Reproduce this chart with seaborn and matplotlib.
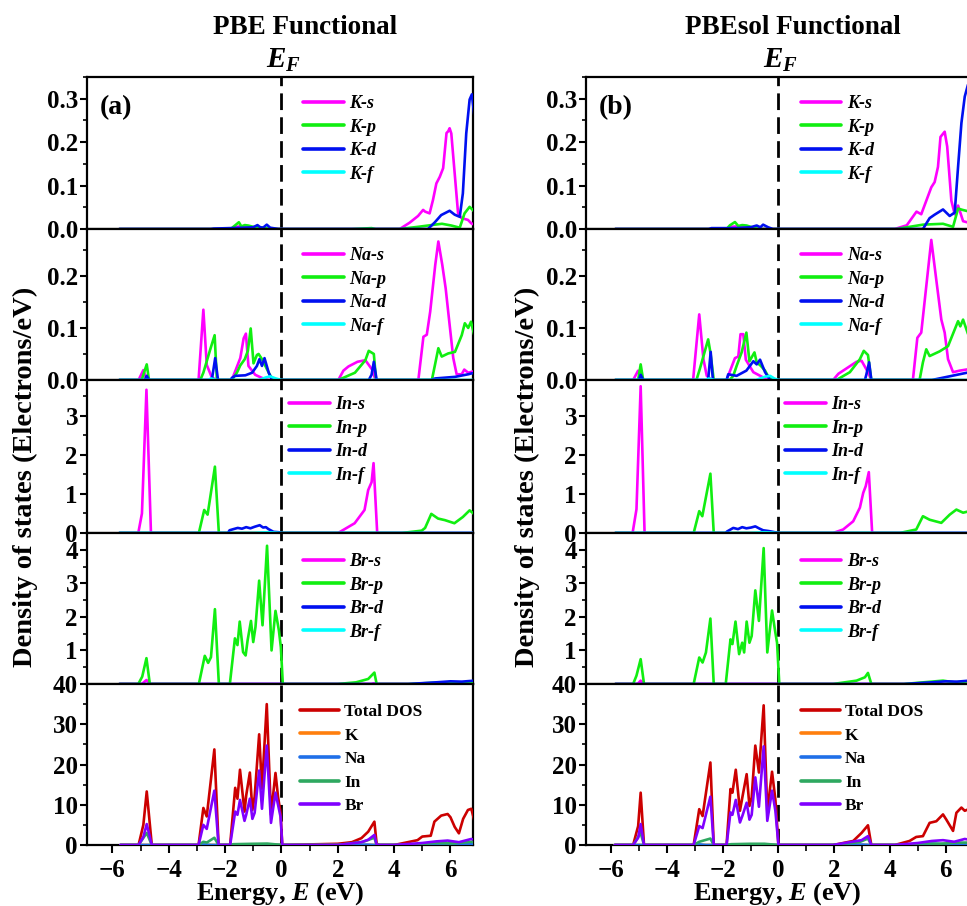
import matplotlib
matplotlib.use("Agg")
import matplotlib.pyplot as plt
import seaborn as sns
from matplotlib.lines import Line2D
from matplotlib.ticker import MultipleLocator, FormatStrFormatter

# ---------------- data: (energy eV, DOS) knots ----------------
# PBE (left column)
pbe_K_s = [(-5.75,0),(-1.75,0),(-1.65,0.004),(-1.5,0.006),(-1.3,0.004),(-1.0,0.002),(-0.6,0),(4.2,0),(4.55,0.0145),(4.85,0.03),(5.03,0.044),(5.1,0.04),(5.26,0.036),(5.38,0.067),(5.5,0.105),(5.62,0.12),(5.74,0.14),(5.86,0.221),(5.92,0.225),(5.97,0.232),(6.03,0.22),(6.15,0.128),(6.27,0.036),(6.39,0.025),(6.62,0.021),(6.74,0.013),(6.85,0.01)]
pbe_K_p = [(-5.75,0),(-1.8,0),(-1.65,0.008),(-1.51,0.0155),(-1.42,0.006),(-1.3,0.009),(-1.18,0.008),(-1.0,0.005),(-0.8,0.004),(-0.59,0.003),(-0.45,0),(2.5,0),(3.2,0.002),(3.35,0),(4.2,0),(4.85,0.005),(5.44,0.01),(5.7,0.012),(6.03,0.008),(6.33,0.003),(6.5,0.036),(6.68,0.051),(6.85,0.04)]
pbe_K_d = [(-5.75,0),(-2.5,0),(-2.4,0.001),(-1.3,0.003),(-1.0,0.004),(-0.85,0.009),(-0.75,0.004),(-0.65,0.003),(-0.52,0.01),(-0.4,0.003),(-0.1,0),(5.2,0),(5.44,0.015),(5.67,0.032),(5.97,0.042),(6.15,0.033),(6.33,0.028),(6.44,0.082),(6.56,0.22),(6.68,0.298),(6.76,0.31),(6.85,0.26)]
pbe_K_f = [(-5.75,0),(6.85,0)]

pbe_Na_s = [(-5.75,0),(-5.07,0),(-4.9,0.019),(-4.78,0),(-2.94,0),(-2.77,0.135),(-2.65,0.029),(-2.47,0.005),(-2.3,0),(-1.76,0),(-1.46,0.042),(-1.34,0.08),(-1.26,0.089),(-1.17,0.027),(-0.93,0.01),(-0.69,0.004),(-0.45,0),(2.02,0),(2.2,0.018),(2.38,0.026),(2.7,0.035),(2.98,0.038),(3.22,0.02),(3.34,0),(4.86,0),(5.04,0.083),(5.16,0.087),(5.28,0.131),(5.46,0.221),(5.57,0.266),(5.71,0.221),(5.83,0.176),(5.92,0.131),(6.1,0.042),(6.22,0.011),(6.4,0.011),(6.49,0.02),(6.63,0.014),(6.85,0.017)]
pbe_Na_p = [(-5.75,0),(-4.96,0),(-4.78,0.03),(-4.7,0),(-2.88,0),(-2.77,0.014),(-2.53,0.058),(-2.37,0.086),(-2.29,0),(-1.76,0),(-1.58,0.014),(-1.46,0.028),(-1.3,0.04),(-1.19,0.056),(-1.09,0.099),(-0.99,0.032),(-0.87,0.048),(-0.81,0.05),(-0.69,0.04),(-0.45,0.014),(-0.36,0.005),(-0.2,0),(2.02,0),(2.61,0.014),(2.98,0.038),(3.1,0.056),(3.28,0.05),(3.36,0),(5.34,0),(5.45,0.029),(5.57,0.061),(5.69,0.045),(5.92,0.051),(6.16,0.054),(6.4,0.086),(6.51,0.109),(6.63,0.1),(6.73,0.112),(6.85,0.085)]
pbe_Na_d = [(-5.75,0),(-4.85,0),(-4.78,0.008),(-4.7,0),(-2.47,0),(-2.35,0.042),(-2.25,0),(-1.8,0),(-1.76,0.004),(-1.64,0.008),(-1.28,0.009),(-1.04,0.014),(-0.87,0.027),(-0.78,0.04),(-0.69,0.027),(-0.6,0.042),(-0.45,0.014),(-0.33,0),(3.1,0),(3.2,0.01),(3.28,0.035),(3.38,0),(5.3,0),(5.46,0.003),(6.16,0.006),(6.63,0.011),(6.85,0.014)]
pbe_Na_f = [(-5.75,0),(-2.6,0),(-2.5,0.003),(-2.3,0),(-0.8,0),(-0.55,0.005),(-0.4,0.007),(-0.2,0.003),(0,0),(6.85,0)]

pbe_In_s = [(-5.75,0),(-5.08,0),(-4.95,0.5),(-4.79,3.67),(-4.63,0),(2.01,0),(2.6,0.25),(2.95,0.59),(3.08,1.1),(3.2,1.3),(3.27,1.79),(3.4,0),(6.85,0)]
pbe_In_p = [(-5.75,0),(-2.93,0),(-2.74,0.59),(-2.62,0.47),(-2.36,1.7),(-2.22,0),(4.27,0),(4.98,0.06),(5.1,0.13),(5.32,0.49),(5.56,0.37),(5.8,0.33),(6.14,0.25),(6.44,0.41),(6.68,0.58),(6.85,0.48)]
pbe_In_d = [(-5.75,0),(-1.9,0),(-1.84,0.07),(-1.7,0.1),(-1.55,0.13),(-1.4,0.11),(-1.25,0.15),(-1.1,0.12),(-0.95,0.16),(-0.77,0.2),(-0.65,0.14),(-0.55,0.15),(-0.46,0.1),(-0.28,0.03),(-0.1,0.02),(0,0),(6.85,0)]
pbe_In_f = [(-5.75,0),(-1.0,0),(-0.5,0.02),(-0.2,0.01),(0,0),(6.85,0)]

pbe_Br_s = [(-5.75,0),(-4.95,0),(-4.79,0.12),(-4.65,0),(3.2,0),(3.28,0.02),(3.38,0),(6.85,0)]
pbe_Br_p = [(-5.75,0),(-5.08,0),(-4.94,0.22),(-4.79,0.77),(-4.67,0),(-2.93,0),(-2.72,0.84),(-2.6,0.63),(-2.5,0.8),(-2.36,2.23),(-2.22,0),(-1.83,0),(-1.65,1.36),(-1.56,1.16),(-1.48,1.86),(-1.36,0.95),(-1.27,0.85),(-1.2,1.3),(-1.08,1.88),(-1.0,1.25),(-0.92,1.7),(-0.79,3.08),(-0.67,1.75),(-0.51,4.12),(-0.35,1.0),(-0.21,2.18),(-0.09,1.6),(-0.02,1.1),(0.05,0),(2.0,0),(2.65,0.05),(3.08,0.15),(3.3,0.34),(3.38,0),(4.5,0),(5.5,0.04),(6.0,0.05),(6.85,0.04)]
pbe_Br_d = [(-5.75,0),(4.5,0),(5.5,0.05),(6.0,0.08),(6.4,0.07),(6.85,0.1)]
pbe_Br_f = [(-5.75,0),(6.85,0)]

pbe_tot = [(-5.72,0),(-5.07,0),(-4.9,5),(-4.78,13.3),(-4.6,0),(-2.94,0),(-2.77,9.2),(-2.65,7.1),(-2.38,23.75),(-2.23,0),(-1.82,0),(-1.64,14.2),(-1.56,11.5),(-1.47,18.7),(-1.31,8.3),(-1.25,12.3),(-1.12,18),(-1.03,8.7),(-0.95,12),(-0.79,27.5),(-0.69,14),(-0.52,35),(-0.37,7.5),(-0.21,17.9),(-0.12,12),(-0.03,8),(0.03,0),(2.0,0.3),(2.5,0.7),(2.84,1.7),(3.08,3.3),(3.3,5.8),(3.38,0.3),(3.5,0),(4.0,0),(4.83,1.2),(5.0,2.1),(5.3,2.3),(5.43,5.8),(5.67,7.3),(5.9,7.7),(6.0,6.9),(6.15,4.5),(6.3,2.9),(6.45,6.5),(6.62,8.7),(6.74,9),(6.85,6)]
pbe_K_tot = [(-5.72,0),(4.2,0),(5.5,0.15),(6.0,0.25),(6.5,0.2),(6.85,0.45)]
pbe_Na_tot = [(-5.72,0),(-2.9,0),(-2.77,0.15),(-2.5,0),(2.0,0),(3.0,0.1),(3.3,0),(5.0,0),(5.6,0.35),(6.0,0.2),(6.85,0.2)]
pbe_In_tot = [(-5.72,0),(-5.07,0),(-4.78,3.0),(-4.6,0),(-2.94,0),(-2.77,0.8),(-2.65,0.6),(-2.38,1.8),(-2.23,0),(-1.82,0),(-1.7,0.2),(-1.0,0.3),(-0.5,0.35),(0.03,0),(2.0,0),(2.9,0.8),(3.3,1.8),(3.38,0),(4.3,0),(5.0,0.2),(5.4,0.5),(6.1,0.4),(6.74,0.8),(6.85,0.7)]
pbe_Br_tot = [(-5.72,0),(-5.07,0),(-4.9,2),(-4.78,5.2),(-4.6,0),(-2.94,0),(-2.77,5.0),(-2.65,4.0),(-2.38,13.5),(-2.23,0),(-1.82,0),(-1.64,8.3),(-1.56,7.5),(-1.47,11.2),(-1.31,6),(-1.25,7.5),(-1.12,11.5),(-1.03,6.5),(-0.95,8),(-0.79,18.5),(-0.69,9),(-0.52,24.7),(-0.37,5.5),(-0.21,13),(-0.12,10),(-0.03,7),(0.03,0),(2.0,0),(2.84,0.7),(3.08,1.3),(3.3,2.5),(3.38,0),(4.0,0),(5.0,0.5),(5.5,0.9),(5.9,1.1),(6.3,0.7),(6.74,1.5),(6.85,1.3)]

# PBEsol (right column)
sol_K_s = [(-5.85,0),(-1.85,0),(-1.7,0.005),(-1.5,0.006),(-1.3,0.004),(-1.0,0.002),(-0.7,0),(4.17,0),(4.6,0.0085),(4.95,0.04),(5.12,0.034),(5.3,0.065),(5.48,0.096),(5.6,0.108),(5.72,0.143),(5.81,0.212),(5.96,0.224),(6.05,0.19),(6.2,0.065),(6.32,0.034),(6.44,0.054),(6.62,0.018),(6.85,0.014)]
sol_K_p = [(-5.85,0),(-1.86,0),(-1.74,0.0085),(-1.56,0.016),(-1.44,0.007),(-1.3,0.009),(-1.14,0.008),(-0.9,0.003),(-0.7,0),(4.23,0),(5.18,0.01),(5.9,0.012),(6.26,0.005),(6.44,0.047),(6.6,0.044),(6.85,0.04)]
sol_K_d = [(-5.85,0),(-2.5,0),(-2.4,0.002),(-1.5,0.002),(-1.0,0.004),(-0.78,0.008),(-0.65,0.004),(-0.55,0.01),(-0.37,0.004),(-0.2,0),(5.18,0),(5.42,0.025),(5.6,0.033),(5.9,0.045),(6.14,0.03),(6.32,0.038),(6.44,0.143),(6.56,0.244),(6.68,0.305),(6.85,0.345)]
sol_K_f = [(-5.85,0),(6.85,0)]

sol_Na_s = [(-5.85,0),(-5.21,0),(-5.03,0.018),(-4.9,0),(-3.06,0),(-2.84,0.126),(-2.69,0.04),(-2.57,0.008),(-2.4,0),(-1.86,0),(-1.56,0.042),(-1.44,0.045),(-1.36,0.088),(-1.26,0.088),(-1.17,0.039),(-0.9,0.015),(-0.55,0.005),(-0.3,0),(1.96,0),(2.15,0.012),(2.32,0.018),(2.8,0.035),(2.98,0.037),(3.21,0.015),(3.33,0),(4.82,0),(4.98,0.081),(5.12,0.091),(5.3,0.18),(5.48,0.269),(5.66,0.192),(5.84,0.116),(5.96,0.091),(6.08,0.04),(6.26,0.015),(6.5,0.018),(6.85,0.021)]
sol_Na_p = [(-5.85,0),(-5.03,0),(-4.94,0.03),(-4.85,0),(-2.94,0),(-2.82,0.021),(-2.52,0.078),(-2.44,0.053),(-2.32,0),(-1.75,0),(-1.62,0.008),(-1.5,0.027),(-1.32,0.053),(-1.15,0.091),(-1.04,0.036),(-0.86,0.053),(-0.78,0.034),(-0.63,0.027),(-0.48,0.018),(-0.35,0.005),(-0.2,0),(2.08,0),(2.56,0.015),(2.92,0.04),(3.06,0.056),(3.21,0.048),(3.33,0),(5.06,0),(5.18,0.034),(5.3,0.059),(5.42,0.046),(5.78,0.055),(6.08,0.065),(6.32,0.097),(6.44,0.113),(6.52,0.103),(6.62,0.116),(6.85,0.08)]
sol_Na_d = [(-5.85,0),(-5.0,0),(-4.94,0.01),(-4.85,0),(-2.52,0),(-2.43,0.054),(-2.35,0),(-1.86,0),(-1.8,0.011),(-1.5,0.008),(-1.15,0.018),(-0.9,0.036),(-0.78,0.03),(-0.66,0.039),(-0.48,0.015),(-0.3,0),(3.1,0),(3.15,0.01),(3.25,0.034),(3.33,0),(5.5,0),(6.4,0.01),(6.85,0.015)]
sol_Na_f = [(-5.85,0),(-2.6,0),(-2.5,0.003),(-2.3,0),(-0.8,0),(-0.5,0.006),(-0.3,0.008),(-0.15,0.003),(0,0),(6.85,0)]

sol_In_s = [(-5.85,0),(-5.23,0),(-5.09,0.61),(-4.94,3.76),(-4.8,0),(1.96,0),(2.32,0.09),(2.68,0.3),(2.92,0.65),(3.04,1.03),(3.13,1.2),(3.24,1.56),(3.36,0),(6.85,0)]
sol_In_p = [(-5.85,0),(-3.04,0),(-2.84,0.56),(-2.73,0.43),(-2.44,1.52),(-2.32,0),(4.35,0),(4.94,0.09),(5.18,0.43),(5.42,0.34),(5.84,0.26),(6.14,0.47),(6.38,0.6),(6.62,0.52),(6.85,0.56)]
sol_In_d = [(-5.85,0),(-1.9,0),(-1.84,0.04),(-1.62,0.13),(-1.45,0.1),(-1.3,0.15),(-1.15,0.12),(-0.98,0.14),(-0.83,0.17),(-0.7,0.12),(-0.55,0.07),(-0.35,0.05),(-0.2,0.03),(0,0),(6.85,0)]
sol_In_f = [(-5.85,0),(-1.0,0),(-0.5,0.02),(-0.2,0.01),(0,0),(6.85,0)]

sol_Br_s = [(-5.85,0),(-5.05,0),(-4.94,0.1),(-4.82,0),(6.85,0)]
sol_Br_p = [(-5.85,0),(-5.21,0),(-5.09,0.25),(-4.94,0.74),(-4.82,0),(-3.04,0),(-2.84,0.79),(-2.72,0.64),(-2.6,0.94),(-2.44,1.95),(-2.32,0),(-1.89,0),(-1.72,1.33),(-1.65,1.19),(-1.54,1.86),(-1.41,0.89),(-1.3,1.23),(-1.23,0.94),(-1.14,1.86),(-1.04,1.23),(-0.96,1.43),(-0.83,2.79),(-0.7,1.88),(-0.53,4.05),(-0.4,0.94),(-0.23,2.19),(-0.11,1.53),(-0.05,1.23),(0.03,0),(1.96,0),(2.8,0.1),(3.1,0.2),(3.21,0.33),(3.33,0),(4.5,0),(5.9,0.1),(6.3,0.05),(6.85,0.08)]
sol_Br_d = [(-5.85,0),(4.5,0),(5.5,0.05),(6.0,0.08),(6.4,0.07),(6.85,0.1)]
sol_Br_f = [(-5.85,0),(6.85,0)]

sol_tot = [(-5.87,0),(-5.21,0),(-5.03,4.7),(-4.94,13),(-4.82,0),(-3.04,0),(-2.84,8.9),(-2.72,7.2),(-2.44,20.5),(-2.32,0),(-1.86,0),(-1.72,13.9),(-1.65,13),(-1.53,18.7),(-1.38,8.5),(-1.29,12),(-1.14,17.6),(-1.04,9.7),(-0.96,11.8),(-0.83,24.7),(-0.7,18),(-0.53,34.7),(-0.4,8.3),(-0.23,18.2),(-0.11,11.3),(0.0,0),(1.96,0),(2.68,1),(2.98,3),(3.21,4.9),(3.33,0),(4.17,0),(4.7,1),(4.94,2),(5.18,2.2),(5.42,5.5),(5.66,5.9),(5.9,7.6),(6.02,6.3),(6.26,3.5),(6.38,8.0),(6.56,9.3),(6.68,8.5),(6.85,9)]
sol_K_tot = [(-5.87,0),(4.2,0),(5.5,0.15),(6.0,0.25),(6.5,0.2),(6.85,0.45)]
sol_Na_tot = [(-5.87,0),(-3.0,0),(-2.84,0.15),(-2.6,0),(2.0,0),(3.0,0.1),(3.3,0),(4.9,0),(5.5,0.35),(6.0,0.2),(6.85,0.2)]
sol_In_tot = [(-5.87,0),(-5.21,0),(-4.94,3.0),(-4.82,0),(-3.04,0),(-2.84,0.8),(-2.44,1.6),(-2.32,0),(-1.86,0),(-1.7,0.2),(-1.0,0.3),(-0.5,0.3),(0,0),(1.96,0),(2.9,0.7),(3.21,1.6),(3.33,0),(4.3,0),(5.2,0.4),(5.8,0.3),(6.4,0.6),(6.85,0.6)]
sol_Br_tot = [(-5.87,0),(-5.21,0),(-5.03,1.8),(-4.94,5.2),(-4.82,0),(-3.04,0),(-2.84,4.7),(-2.72,4.2),(-2.44,12),(-2.32,0),(-1.86,0),(-1.72,8.1),(-1.65,7.5),(-1.53,11.2),(-1.38,5.6),(-1.29,7.3),(-1.14,10.5),(-1.04,6.3),(-0.96,7.5),(-0.83,16.8),(-0.7,9.5),(-0.53,24.5),(-0.4,6),(-0.23,13.5),(-0.11,8.5),(0,0),(1.96,0),(2.98,1.2),(3.21,2.2),(3.33,0),(4.17,0),(5.0,0.5),(5.5,1.0),(5.9,1.2),(6.3,0.8),(6.68,1.5),(6.85,1.3)]

elements = ["K", "Na", "In", "Br"]
orbitals = ["s", "p", "d", "f"]
total_labels = ["Total DOS", "K", "Na", "In", "Br"]
functional_titles = ["PBE Functional", "PBEsol Functional"]
panel_tags = ["(a)", "(b)"]

# ---------------- styling ----------------
sns.set_style("ticks")
plt.rcParams.update({
    "font.family": ["Liberation Serif", "DejaVu Serif"],
    "font.weight": "bold",
    "axes.labelweight": "bold",
    "text.color": "black",
    "axes.labelcolor": "black",
    "xtick.color": "black",
    "ytick.color": "black",
    "axes.edgecolor": "black",
    "mathtext.fontset": "custom",
    "mathtext.rm": "Liberation Serif:bold",
    "mathtext.it": "Liberation Serif:italic:bold",
    "mathtext.bf": "Liberation Serif:bold",
    "axes.unicode_minus": True,
})

orb_colors = {"s": "#FF00FF", "p": "#11EE11", "d": "#0010F0", "f": "#00FFFF"}
tot_colors = ["#CC0000", "#FF7F0E", "#1F6FE8", "#2EA860", "#8000FF"]

W, H = 967, 906
ybounds = [77, 229, 380, 533, 684, 845]
cols = [(87, 386), (586, 383.5)]
xlims = [(-6.9, 6.8), (-6.9, 6.85)]
ylims = [(0, 0.35), (0, 0.29), (0, 3.92), (0, 4.5), (0, 40)]
ymaj = [0.1, 0.1, 1, 1, 10]
ymin = [0.05, 0.05, 0.5, 0.5, 5]
leg_x = [[0.56, 0.56, 0.523, 0.56, 0.552], [0.56, 0.56, 0.52, 0.56, 0.56]]
leg_y = [0.88, 0.88, 0.895, 0.867, 0.877]
leg_sp = [0.36, 0.36, 0.36, 0.36, 0.43]

data = {
    0: {"K": [pbe_K_s, pbe_K_p, pbe_K_d, pbe_K_f],
        "Na": [pbe_Na_s, pbe_Na_p, pbe_Na_d, pbe_Na_f],
        "In": [pbe_In_s, pbe_In_p, pbe_In_d, pbe_In_f],
        "Br": [pbe_Br_s, pbe_Br_p, pbe_Br_d, pbe_Br_f],
        "tot": [pbe_tot, pbe_K_tot, pbe_Na_tot, pbe_In_tot, pbe_Br_tot]},
    1: {"K": [sol_K_s, sol_K_p, sol_K_d, sol_K_f],
        "Na": [sol_Na_s, sol_Na_p, sol_Na_d, sol_Na_f],
        "In": [sol_In_s, sol_In_p, sol_In_d, sol_In_f],
        "Br": [sol_Br_s, sol_Br_p, sol_Br_d, sol_Br_f],
        "tot": [sol_tot, sol_K_tot, sol_Na_tot, sol_In_tot, sol_Br_tot]},
}

fig = plt.figure(figsize=(W / 100, H / 100), dpi=100)
LW = 1.9

def xy(pts):
    return [p[0] for p in pts], [p[1] for p in pts]

for c, (x0, w) in enumerate(cols):
    for i in range(5):
        y0, y1 = ybounds[i], ybounds[i + 1]
        ax = fig.add_axes([x0 / W, 1 - y1 / H, w / W, (y1 - y0) / H])
        ax.axvline(0, color="black", lw=2.0, ls=(0, (6, 2.6)), zorder=1)
        handles = []
        if i < 4:
            el = elements[i]
            for k, orb in enumerate(orbitals):
                xs, ys = xy(data[c][el][k])
                sns.lineplot(x=xs, y=ys, ax=ax, color=orb_colors[orb], lw=LW,
                             sort=False, estimator=None, legend=False, zorder=3)
                handles.append(Line2D([], [], color=orb_colors[orb], lw=2.6, label=f"{el}-{orb}"))
            prop = {"family": "Liberation Serif", "weight": "bold", "style": "italic", "size": 13}
        else:
            for k, lab in enumerate(total_labels):
                xs, ys = xy(data[c]["tot"][k])
                sns.lineplot(x=xs, y=ys, ax=ax, color=tot_colors[k], lw=LW,
                             sort=False, estimator=None, legend=False, zorder=3)
                handles.append(Line2D([], [], color=tot_colors[k], lw=2.6, label=lab))
            prop = {"family": "Liberation Serif", "weight": "bold", "size": 12.5}
        ax.legend(handles=handles, loc="upper left", bbox_to_anchor=(leg_x[c][i], leg_y[i]),
                  frameon=False, prop=prop, handlelength=2.25, handletextpad=0.3,
                  labelspacing=leg_sp[i], borderpad=0, borderaxespad=0)
        ax.set_xlim(*xlims[c])
        ax.set_ylim(*ylims[i])
        ax.yaxis.set_major_locator(MultipleLocator(ymaj[i]))
        ax.yaxis.set_minor_locator(MultipleLocator(ymin[i]))
        if i < 2:
            ax.yaxis.set_major_formatter(FormatStrFormatter("%.1f"))
        if i == 3:
            # the "0" of this panel sits under the "40" of the panel below
            ax.yaxis.set_major_formatter(FormatStrFormatter("%d"))
            ax.set_yticks([1, 2, 3, 4])
            ax.set_yticks([0.5, 1.5, 2.5, 3.5, 4.5], minor=True)
        ax.xaxis.set_major_locator(MultipleLocator(2))
        ax.xaxis.set_minor_locator(MultipleLocator(1))
        for sp in ax.spines.values():
            sp.set_linewidth(1.6)
            sp.set_color("black")
        ax.tick_params(axis="y", which="major", direction="out", length=5, width=1.5,
                       labelsize=18, pad=1.5, right=False)
        ax.tick_params(axis="y", which="minor", direction="out", length=3, width=1.2, right=False)
        if i < 4:
            ax.tick_params(axis="x", which="both", bottom=False, top=False, labelbottom=False)
        else:
            ax.tick_params(axis="x", which="major", direction="out", length=6, width=1.5,
                           labelsize=18, pad=4, top=False)
            ax.tick_params(axis="x", which="minor", direction="out", length=4, width=1.2, top=False)
            ax.set_xlabel("Energy, $E$ (eV)", fontsize=19, labelpad=-1)
        ax.set_ylabel("")
        if i == 0:
            ax.text(0.034, 0.80, panel_tags[c], transform=ax.transAxes, fontsize=20,
                    fontweight="bold", ha="left", va="center")

# titles, Fermi-level label, y labels
fig.text(305 / W, 1 - 27 / H, functional_titles[0], ha="center", va="center", fontsize=19.5, fontweight="bold")
fig.text(793 / W, 1 - 27 / H, functional_titles[1], ha="center", va="center", fontsize=19.5, fontweight="bold")
fig.text(283 / W, 1 - 60 / H, r"$E_F$", ha="center", va="center", fontsize=21)
fig.text(780 / W, 1 - 60 / H, r"$E_F$", ha="center", va="center", fontsize=21)
fig.text(25 / W, 1 - 477 / H, "Density of states (Electrons/eV)", rotation=90,
         ha="center", va="center", fontsize=20.5, fontweight="bold")
fig.text(527 / W, 1 - 477 / H, "Density of states (Electrons/eV)", rotation=90,
         ha="center", va="center", fontsize=20.5, fontweight="bold")

fig.savefig("out.png", dpi=100)
